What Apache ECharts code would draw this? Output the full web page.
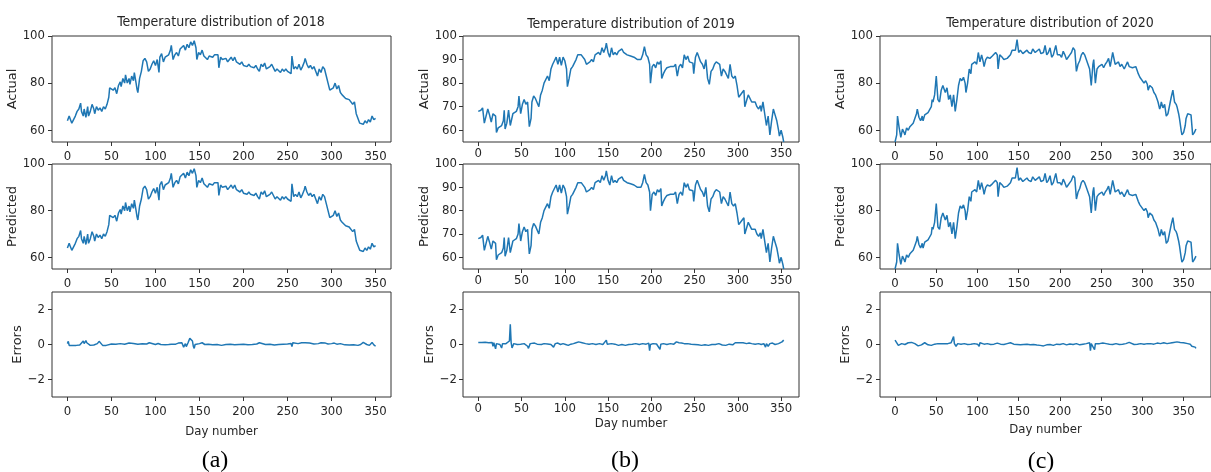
<!DOCTYPE html>
<html lang="en">
<head>
<meta charset="UTF-8">
<title>Temperature distribution</title>
<script src="https://cdn.jsdelivr.net/npm/echarts@6/dist/echarts.min.js"></script>
<style>html,body{margin:0;padding:0;background:#fff;}</style>
</head>
<body>
<div id="app" style="width:1211px;height:472px;"></div>
<script>
// tick labels
var dayTicks = [0, 50, 100, 150, 200, 250, 300, 350];
var tempTicksA = [60, 80, 100];
var tempTicksB = [60, 70, 80, 90, 100];
var errTicks = [-2, 0, 2];

// 2018 [day, value]
var actual2018 = [[0,64],[2,66],[3,65],[5,63],[7,64.5],[9,66],[11,68],[13,69],[15,71.5],[16,68],[18,66],[19,69],[21,65.5],[23,70],[24,66],[26,68],[28,71],[30,69],[31,67],[33,70],[35,68.5],[37,69.5],[39,68],[41,70],[43,69],[45,71],[47,74],[48,78],[50,78.5],[52,77],[54,78],[56,75.5],[58,79],[60,80.5],[61,78.5],[63,82],[65,80],[66,83.5],[68,80],[70,82],[71,79.5],[73,83],[75,81],[76,84.5],[78,80],[79,77.5],[80,76],[82,82],[84,85],[86,89.5],[88,90.5],[90,89],[92,85],[94,86],[96,88],[98,89.5],[100,87.5],[102,90],[104,84.5],[105,91],[107,92.5],[109,89],[111,91],[113,90.5],[115,92],[117,94],[118,96],[120,90],[122,92],[124,93],[126,91.5],[128,94.5],[130,95],[132,96],[134,94],[136,96.5],[138,95],[140,97.5],[142,96],[144,98],[146,95],[147,90],[149,93],[151,92],[153,94],[155,91.5],[157,92],[159,90],[161,91.5],[163,92],[165,91],[167,92],[169,91.5],[171,92],[172,86.5],[174,91],[176,90],[178,89.5],[180,90.5],[182,89],[184,90],[186,91],[188,89.5],[190,91],[192,89],[194,88.5],[196,88],[198,89],[200,87.5],[202,88],[204,87],[206,88],[208,87],[210,87.5],[212,86.5],[214,87.5],[216,86],[218,85],[220,88],[222,87],[224,88.5],[226,86],[228,85.5],[230,87],[232,88],[234,86.5],[236,85],[238,86],[240,85.5],[242,84.5],[244,86],[246,85],[248,86],[250,85],[252,84.5],[254,84],[255,91.5],[257,86],[259,87],[261,86],[263,88],[265,85.5],[267,87],[269,89],[270,90.5],[272,88],[274,86.5],[276,87.5],[278,86],[280,87],[282,85],[284,83],[286,86],[288,84.5],[290,87],[292,86],[294,83],[296,80],[298,77],[300,76.5],[302,78],[304,80],[306,77.5],[308,79],[310,76],[312,75],[314,74.5],[316,73.5],[318,74],[320,73],[322,72.5],[324,71],[326,72],[328,67],[330,65],[332,63],[334,63.5],[336,62.5],[338,64],[340,63],[342,64.5],[344,63.5],[346,66],[348,64.5],[350,65]];
// predicted panel reads the same as actual at this resolution
var predicted2018 = actual2018;
var errors2018 = [[0,0.05],[1,0.18],[2,-0.05],[4,0],[6,-0.05],[8,0.02],[10,-0.05],[12,0.05],[14,-0.03],[16,0.05],[18,0.2],[19,0.05],[21,0.22],[22,0.1],[24,0.15],[26,-0.05],[28,0.05],[30,-0.03],[32,0],[34,0.05],[36,0.18],[38,0.1],[40,-0.05],[42,-0.1],[44,-0.05],[46,0],[50,0.03],[55,0.02],[60,0.05],[65,0.02],[70,0.08],[72,0.03],[75,0.06],[80,0.02],[85,0.04],[90,0.03],[93,0.1],[95,0.03],[100,0],[103,0.06],[106,0],[108,0.05],[111,-0.02],[113,0.05],[115,0],[117,-0.1],[118,0.02],[120,0.05],[123,0.02],[126,0.08],[128,-0.02],[130,0.1],[132,-0.15],[134,0.05],[135,-0.12],[137,0.1],[139,0.35],[140,0.42],[142,0.2],[143,-0.1],[144,-0.22],[145,0],[147,0.08],[150,0.05],[153,0.1],[156,0],[160,0.02],[165,-0.02],[170,0],[175,-0.05],[180,0],[185,0.02],[190,-0.02],[195,0],[200,0.02],[205,-0.02],[210,0],[215,0.03],[218,0.1],[220,0.02],[225,0],[230,0.02],[235,-0.03],[240,0],[245,0.02],[250,0.03],[254,0.06],[255,-0.12],[256,0.1],[258,0.02],[262,0.05],[266,0.1],[270,0.1],[272,0.05],[275,0.08],[280,0.03],[285,0.05],[288,0.1],[290,0.05],[293,0.08],[296,0.03],[298,0.1],[300,0.05],[303,0.08],[306,0.02],[310,0.05],[315,-0.02],[320,-0.03],[325,-0.02],[330,-0.05],[333,0],[336,0.12],[338,0.1],[340,0],[343,-0.05],[345,0.05],[346,0.12],[348,-0.02],[350,-0.1]];

// 2019
var actual2019 = [[0,68],[3,68.5],[5,69.5],[7,63],[9,62.5],[11,69],[13,66.5],[15,63.5],[17,67],[19,67.5],[20,66],[21,59],[23,61],[25,60.5],[27,62],[29,64],[30,68.5],[31,60.5],[33,63],[35,68.5],[37,62],[38,61.5],[40,67],[42,66.5],[44,68],[46,70],[47,74.5],[49,67],[51,71],[53,73],[55,71],[57,72],[59,61.5],[61,65],[62,72],[64,74.5],[66,73.5],[68,73],[70,70],[72,75],[74,77],[76,80],[78,79.5],[80,83],[82,81],[84,86],[86,88],[88,89.5],[90,91],[92,88],[94,91],[96,87.5],[98,91],[100,89.5],[102,86],[103,78.5],[105,82],[107,86],[109,87],[111,88.5],[113,90],[115,92],[117,92.5],[119,92],[121,92.5],[123,90],[125,88],[127,87.5],[129,89],[131,90],[133,89],[135,92],[137,91.5],[139,93],[141,92],[143,95],[145,93],[147,95],[148,97],[150,93],[152,91],[154,95],[156,92],[158,93],[160,92],[162,93.5],[164,93],[166,94.5],[168,93],[170,92.5],[172,92],[174,91.5],[176,91.5],[178,91],[180,91],[182,90.5],[184,90],[186,90.5],[188,90],[190,92],[192,95.5],[194,92],[196,91],[198,88],[199,80],[201,87],[203,88],[205,86.5],[207,89],[209,88],[211,89.5],[212,82],[214,84],[216,85.5],[218,86.5],[220,87],[222,87],[224,87],[226,87],[228,88],[230,83],[232,87],[234,88],[236,86.5],[238,92],[240,90],[242,91.5],[244,89],[246,89.5],[248,88.5],[249,84],[251,91],[253,93],[255,91],[257,89],[259,88],[261,86],[263,90],[265,82],[267,79.5],[269,85],[271,86],[273,88],[275,89],[277,89],[279,88],[281,83],[283,86],[285,85],[287,84.5],[289,82],[291,88],[293,83],[295,82],[297,83],[299,79],[301,74],[303,73.5],[305,76],[307,77],[308,70],[310,72.5],[312,75],[314,74.5],[316,72],[318,71.5],[320,72],[322,70],[324,69],[326,70.5],[327,68],[329,72],[331,71.5],[333,62],[335,66],[337,58],[339,64],[341,69],[343,66.5],[345,64],[347,60],[348,57.5],[350,60],[352,57],[353,55]];
var predicted2019 = actual2019;
var errors2019 = [[0,0.12],[2,0.1],[4,0.12],[6,0.1],[8,0.13],[10,0.08],[12,0.1],[14,0.05],[16,0.12],[17,-0.1],[18,0.1],[20,-0.25],[21,0.05],[23,0.1],[25,0],[27,-0.2],[28,0.05],[30,0.1],[32,0.05],[34,0.15],[36,0.2],[37,1.15],[38,0.1],[39,-0.2],[41,0.05],[43,0.1],[45,0],[47,0.05],[49,0.02],[51,-0.05],[53,0.05],[55,-0.03],[57,-0.1],[58,-0.22],[60,0.05],[62,0],[65,0.08],[68,0.02],[70,0.08],[73,0],[76,0.05],[80,0.03],[84,0],[87,-0.15],[89,0.05],[92,0.08],[95,0],[98,0.05],[101,0],[104,-0.05],[107,0.02],[110,0.05],[113,0.1],[116,0.15],[118,0.05],[120,0.1],[124,0.05],[128,0.02],[132,0.05],[136,0],[140,0.05],[144,0],[146,0.05],[148,0.25],[149,0.02],[151,-0.05],[154,0.05],[158,0.02],[162,-0.05],[166,0],[170,-0.05],[174,0],[178,0.02],[182,0.05],[186,0],[190,0.05],[194,0.02],[197,0.08],[198,-0.35],[199,0],[202,0.05],[206,0.03],[208,0.08],[210,-0.28],[211,0.02],[214,0.05],[218,0],[222,0.05],[226,0.02],[229,0.15],[232,0.1],[235,0.08],[238,0.05],[242,0.05],[246,0.02],[250,0],[254,-0.02],[258,-0.05],[262,-0.02],[266,-0.05],[270,0],[274,0],[278,0.05],[282,-0.03],[286,-0.05],[290,0.02],[294,-0.02],[297,0.1],[299,0.15],[302,0.1],[306,0.1],[310,0.05],[313,0.08],[316,0.05],[320,0.02],[324,0.05],[327,0],[330,0.05],[332,-0.15],[333,0.05],[335,-0.1],[337,0.05],[340,0.08],[343,0],[345,-0.05],[347,0.05],[349,0.1],[351,0.15],[353,0.25]];

// 2020
var actual2020 = [[0,55],[2,58],[3,66],[5,61],[7,57],[9,60.5],[11,59],[12,58],[14,61],[16,60],[18,61.5],[20,62],[22,63],[24,65],[26,67],[27,69],[29,65.5],[31,64],[33,66],[34,64],[36,66.5],[38,66],[40,67.5],[42,68],[44,70],[45,73],[46,72],[48,75],[50,83],[52,73],[54,72],[56,77],[58,79],[60,77],[61,76],[63,78],[65,73],[67,75],[69,70],[71,75],[73,68],[75,73],[77,79],[79,82],[81,81],[83,82.5],[85,80],[86,76],[88,80],[90,86],[92,84],[93,88],[95,87.5],[97,89],[99,88],[101,93],[103,89],[105,92],[107,89],[108,87],[110,90],[112,91],[115,90.5],[118,91.5],[120,91],[122,93],[124,92],[125,86],[127,92],[130,91],[132,90],[134,89.5],[136,90.5],[138,91],[140,92],[142,94],[144,93.5],[146,94],[148,98.5],[150,93],[152,94],[155,92.5],[157,93],[160,94],[162,93],[165,92.5],[167,94.5],[170,93],[172,93.5],[175,94.5],[177,92.5],[180,93],[182,96],[184,92],[186,93],[188,95],[190,91],[192,92],[195,96],[197,92],[200,92],[202,91],[204,93.5],[206,92],[208,90],[210,91],[212,92],[214,93],[216,95],[218,94],[220,85],[222,88],[224,89.5],[226,92],[228,93],[230,92],[232,90],[234,88],[236,86],[238,79],[240,88],[241,90],[243,80],[245,86],[247,87],[249,87.5],[251,88],[253,86.5],[255,88],[257,89],[259,90.5],[261,87],[264,93],[267,88],[269,88.5],[271,89],[273,87],[275,88],[277,87.5],[278,86],[280,86.5],[282,89],[284,87],[286,87.5],[288,86.5],[290,86],[292,87],[294,85],[295,84],[297,82.5],[299,82],[302,80],[304,81],[306,79.5],[307,77],[309,79],[311,78.5],[312,78],[314,76],[316,75],[318,73],[319,72],[321,69],[322,70],[323,72],[325,69.5],[327,71],[329,66],[331,67],[333,67],[335,74],[337,77],[339,72],[341,71],[342,70],[344,67],[345,65],[347,60],[348,58],[350,59],[352,62],[353,65],[355,67],[357,67],[359,66.5],[361,58],[363,59],[365,60.5]];
var predicted2020 = actual2020;
var errors2020 = [[0,0.25],[2,0.15],[4,-0.05],[6,-0.1],[8,0.05],[10,0.12],[12,0],[14,-0.08],[16,0.1],[18,0.08],[20,0.12],[22,0.1],[24,0.05],[26,-0.02],[28,-0.08],[30,0.02],[32,-0.02],[34,0.05],[36,0.1],[38,0.02],[40,-0.02],[42,0.05],[44,-0.05],[46,0.05],[48,0.02],[50,-0.02],[52,0.05],[54,0.08],[56,0.05],[58,0.1],[60,0.05],[62,0.12],[64,0.05],[66,0.02],[68,0.1],[70,0.02],[71,0.45],[72,0.05],[74,-0.1],[76,0.05],[80,0.02],[84,0.05],[88,0],[92,0.02],[96,0.05],[100,0.02],[102,-0.1],[103,0.1],[105,0],[108,0.02],[112,0.05],[116,0],[120,0.02],[124,0.08],[128,0.02],[132,0],[136,0.05],[140,0.1],[144,0.02],[148,0],[152,-0.02],[156,0],[160,0.02],[164,-0.02],[168,0],[172,-0.03],[176,-0.05],[180,-0.08],[184,-0.02],[188,0],[192,-0.05],[196,0.02],[200,0],[204,0.05],[208,-0.02],[212,0.03],[216,0],[220,0.05],[224,-0.02],[228,0.02],[232,0.05],[234,-0.05],[236,0.1],[237,-0.35],[238,0.05],[240,0.12],[242,-0.3],[243,0.05],[245,0.08],[248,0.05],[252,0.08],[256,0.05],[260,0.02],[264,0],[268,0.05],[272,0],[276,0.02],[280,0.05],[284,0.12],[286,0.02],[290,0],[294,0.02],[298,0.05],[302,0.02],[306,0.05],[310,0.05],[314,0.02],[318,0.08],[320,0.12],[322,0.05],[326,0.1],[328,0.15],[330,0.05],[334,0.08],[338,0.12],[340,0.05],[342,0.15],[344,0.1],[346,0.12],[348,0.08],[350,0.1],[352,0.05],[355,0.05],[358,0.02],[360,-0.1],[362,-0.05],[364,-0.15],[365,-0.22]];

var narrow = "'Liberation Sans Narrow', 'DejaVu Sans Condensed', sans-serif";
var ink = '#262626';
var lineColor = '#1f77b4';

var cols = [
    {title: 'Temperature distribution of 2018', cap: '(a)', left: 52, width: 339, xMin: -17.5, xMax: 367.5, tempTicks: tempTicksA,
     data: [actual2018, predicted2018, errors2018], titleX: 221, titleY: 22, capX: 215, capY: 461, xMargin: 8, yMargin: 7, dayGap: 35},
    {title: 'Temperature distribution of 2019', cap: '(b)', left: 463, width: 336, xMin: -17.65, xMax: 370.65, tempTicks: tempTicksB,
     data: [actual2019, predicted2019, errors2019], titleX: 631, titleY: 24, capX: 625, capY: 461, xMargin: 5, yMargin: 6, dayGap: 27},
    {title: 'Temperature distribution of 2020', cap: '(c)', left: 880, width: 342, xMin: -18.25, xMax: 383.25, tempTicks: tempTicksA,
     data: [actual2020, predicted2020, errors2020], titleX: 1050, titleY: 23, capX: 1041, capY: 462, xMargin: 8, yMargin: 7, dayGap: 33}
];
var rows = [
    {name: 'Actual', top: 36, height: 106, yMin: 55, yMax: 100, nameGap: 35},
    {name: 'Predicted', top: 164, height: 105, yMin: 55, yMax: 100, nameGap: 35},
    {name: 'Errors', top: 292, height: 105, yMin: -3, yMax: 3, nameGap: 29}
];

var grids = [], xAxes = [], yAxes = [], series = [], graphics = [];

function minus(v) {
    return String(v).replace('-', '\u2212');
}

cols.forEach(function (c) {
    graphics.push({type: 'text', x: c.titleX, y: c.titleY,
        style: {text: c.title, font: '14px ' + narrow, fill: ink, align: 'center', verticalAlign: 'middle'}});
    graphics.push({type: 'text', x: c.capX, y: c.capY,
        style: {text: c.cap, font: '24px "Liberation Serif", serif', fill: '#000', align: 'center', verticalAlign: 'middle'}});
    rows.forEach(function (r, ri) {
        var i = grids.length;
        grids.push({left: c.left, top: r.top, width: c.width, height: r.height, show: true,
            borderColor: '#333', borderWidth: 1, backgroundColor: 'transparent'});
        xAxes.push({
            type: 'value', gridIndex: i, min: c.xMin, max: c.xMax, position: 'bottom',
            name: ri === 2 ? 'Day number' : '', nameLocation: 'middle', nameGap: c.dayGap,
            nameTextStyle: {fontFamily: narrow, fontSize: 13, color: ink, verticalAlign: 'middle'},
            axisLine: {show: false, onZero: false},
            axisTick: {show: true, inside: false, length: 4, customValues: dayTicks, lineStyle: {color: '#333'}},
            axisLabel: {customValues: dayTicks, margin: c.xMargin, fontFamily: narrow, fontSize: 13, color: ink},
            splitLine: {show: false}
        });
        var yt = ri === 2 ? errTicks : c.tempTicks;
        yAxes.push({
            type: 'value', gridIndex: i, min: r.yMin, max: r.yMax, position: 'left',
            name: r.name, nameLocation: 'middle', nameGap: r.nameGap, nameRotate: 90,
            nameTextStyle: {fontFamily: 'DejaVu Sans', fontSize: 13, color: ink, verticalAlign: 'middle', align: 'center'},
            axisLine: {show: false, onZero: false},
            axisTick: {show: true, inside: false, length: 4, customValues: yt, lineStyle: {color: '#333'}},
            axisLabel: {customValues: yt, margin: c.yMargin, fontFamily: narrow, fontSize: 13, color: ink, formatter: minus},
            splitLine: {show: false}
        });
        series.push({
            type: 'line', xAxisIndex: i, yAxisIndex: i, data: c.data[ri],
            symbol: 'none', showSymbol: false, clip: true,
            lineStyle: {color: lineColor, width: 1.5}
        });
    });
});

var myChart = echarts.init(document.getElementById('app'), null, {renderer: 'canvas'});
myChart.setOption({
    animation: false,
    backgroundColor: '#fff',
    grid: grids,
    xAxis: xAxes,
    yAxis: yAxes,
    series: series,
    graphic: graphics
});
</script>
</body>
</html>
